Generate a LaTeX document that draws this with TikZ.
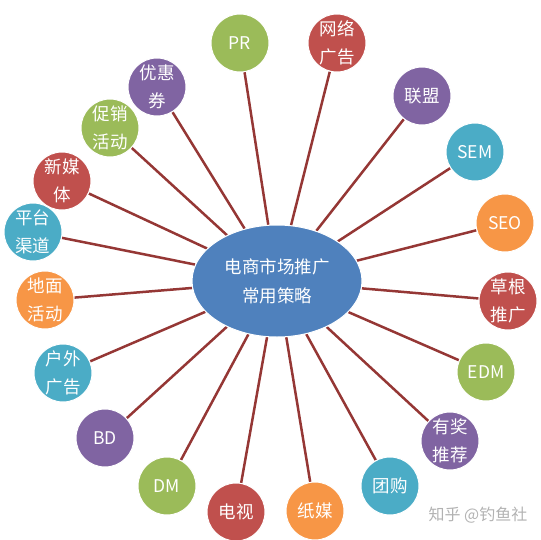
\documentclass[tikz,border=0pt]{standalone}
\usepackage{fontspec}
\setmainfont{Noto Sans CJK SC}
\definecolor{cgreen}{HTML}{9BBB59}
\definecolor{cred}{HTML}{C0504D}
\definecolor{cpurple}{HTML}{8064A2}
\definecolor{caqua}{HTML}{4BACC6}
\definecolor{corange}{HTML}{F79646}
\definecolor{cblue}{HTML}{4F81BD}
\definecolor{spoke}{HTML}{953735}
\usetikzlibrary{shapes.geometric,backgrounds}
\tikzset{
  leaf/.style={circle, fill=#1, draw=white, line width=1pt, minimum size=58pt,
    inner sep=0pt, text=white, font=\fontsize{17.5}{28}\selectfont, align=center},
  hubnode/.style={ellipse, fill=cblue, draw=white, line width=1pt,
    minimum width=170pt, minimum height=112pt, text=white,
    font=\fontsize{17.5}{29}\selectfont, align=center},
  spokeline/.style={spoke, line width=2.5pt}
}
\begin{document}
\begin{tikzpicture}[x=1pt,y=-1pt]

	\useasboundingbox (0,0) rectangle (541,539);

	\node[hubnode] (hub) at (277,281) {电商市场推广\\常用策略};

	\foreach \nm/\x/\y/\col/\txt in {
		pr/240/43/cgreen/PR,
		web/337/43/cred/{网络\\广告},
		union/422/96/cpurple/联盟,
		sem/475/152/caqua/SEM,
		seo/505/223/corange/SEO,
		grass/508/301/cred/{草根\\推广},
		edm/486/372/cgreen/EDM,
		award/450/441/cpurple/{有奖\\推荐},
		group/390/486/caqua/团购,
		paper/315/511/corange/纸媒,
		tv/236/512/cred/电视,
		dm/167/486/cgreen/DM,
		bd/105/438/cpurple/BD,
		outdoor/63/373/caqua/{户外\\广告},
		ground/45/300/corange/{地面\\活动},
		platform/33/232/caqua/{平台\\渠道},
		media/62/181/cred/{新媒\\体},
		promo/110/128/cgreen/{促销\\活动},
		coupon/157/87/cpurple/{优惠\\券}}
{
	\node[leaf=\col] (\nm) at (\x,\y) {\txt};
}

	% spokes from the hub to each leaf
	\begin{scope}[on background layer]
	\foreach \nm in {pr,web,union,sem,seo,grass,edm,award,group,paper,tv,dm,bd,outdoor,ground,platform,media,promo,coupon}
		\draw[spokeline] (hub) -- (\nm);
	\end{scope}

	\node[text=black!30, font=\fontsize{16}{18}\selectfont] (mark) at (478,515) {知乎 @钓鱼社};

\end{tikzpicture}
\end{document}
